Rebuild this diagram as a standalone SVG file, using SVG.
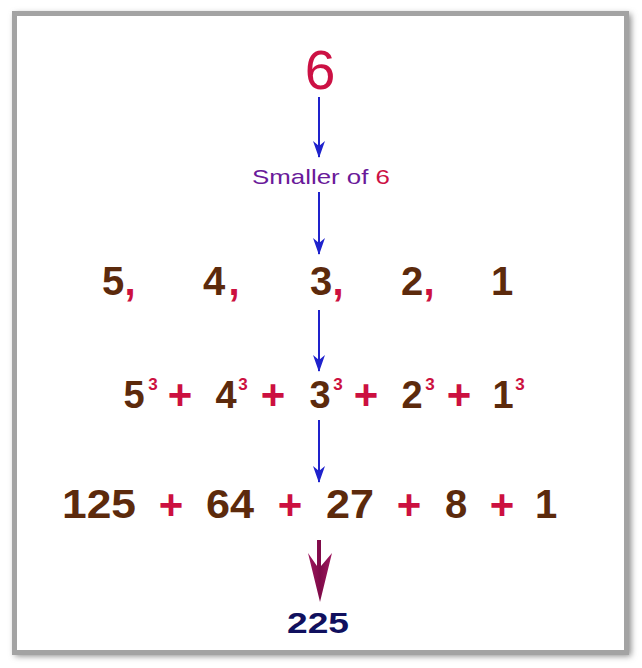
<svg xmlns="http://www.w3.org/2000/svg" width="642" height="668" viewBox="0 0 642 668">
<defs>
<filter id="sh" x="-5%" y="-5%" width="110%" height="110%"><feGaussianBlur stdDeviation="3"/></filter>
<marker id="ab" viewBox="0 0 17 12" refX="16" refY="6" markerWidth="17" markerHeight="12" markerUnits="userSpaceOnUse" orient="auto">
<path d="M0,0 L5,6 L0,12 L17,6 Z" fill="#1f22cc"/>
</marker>
<linearGradient id="mg" x1="0" y1="0" x2="1" y2="0"><stop offset="0" stop-color="#a0185f"/><stop offset="0.5" stop-color="#7e0a48"/><stop offset="1" stop-color="#a0185f"/></linearGradient>
</defs>
<style>
.n{font-family:"Liberation Sans",Arial,sans-serif;font-weight:bold;font-size:40px;fill:#5c2a0c;text-anchor:middle}
.m{font-size:38px}
.r{font-family:"Liberation Sans",Arial,sans-serif;font-weight:bold;fill:#cc1040;text-anchor:middle}
.p{font-size:42px}
.s{font-size:17px}
.c{font-size:40px}
.ln{stroke:#1f22cc;stroke-width:2;fill:none;marker-end:url(#ab)}
</style>
<rect x="15" y="14" width="616" height="642" fill="#888" filter="url(#sh)"/>
<rect x="14.5" y="13.5" width="612" height="639" fill="#fff" stroke="#a3a3a3" stroke-width="5"/>
<g id="connectors">
<line class="ln" x1="319" y1="97" x2="319" y2="157"/>
<line class="ln" x1="319" y1="192" x2="319" y2="254"/>
<line class="ln" x1="319" y1="310" x2="319" y2="371"/>
<line class="ln" x1="319" y1="420" x2="319" y2="482"/>
<path d="M317,540 L321,540 L321,566 L332,553 L320,602 L308,553 L317,566 Z" fill="url(#mg)"/>
</g>
<g id="top"><text x="320" y="89" style="font-family:'Liberation Sans',Arial,sans-serif;font-size:55px;fill:#cc1144" text-anchor="middle">6</text></g>
<g id="smaller"><text x="252" y="184" textLength="138" lengthAdjust="spacingAndGlyphs" style="font-family:'Liberation Sans',Arial,sans-serif;font-size:21px;fill:#6a1a9a">Smaller of <tspan fill="#cc1144">6</tspan></text></g>
<g id="row1">
<text class="n" x="113" y="295">5</text><text class="r c" x="130" y="295">,</text>
<text class="n" x="214" y="295">4</text><text class="r c" x="234" y="295">,</text>
<text class="n" x="321" y="295">3</text><text class="r c" x="338" y="295">,</text>
<text class="n" x="412" y="295">2</text><text class="r c" x="429" y="295">,</text>
<text class="n" x="502" y="295">1</text>
</g>
<g id="row2">
<text class="n m" x="134" y="408">5</text><text class="r s" x="153" y="390">3</text>
<text class="r p" x="180" y="409">+</text>
<text class="n m" x="226" y="408">4</text><text class="r s" x="243" y="390">3</text>
<text class="r p" x="273" y="409">+</text>
<text class="n m" x="320" y="408">3</text><text class="r s" x="338" y="390">3</text>
<text class="r p" x="366" y="409">+</text>
<text class="n m" x="412" y="408">2</text><text class="r s" x="430" y="390">3</text>
<text class="r p" x="459" y="409">+</text>
<text class="n m" x="503" y="408">1</text><text class="r s" x="520" y="390">3</text>
</g>
<g id="row3">
<text class="n" x="99" y="518" textLength="74" lengthAdjust="spacingAndGlyphs">125</text>
<text class="r p" x="171" y="519">+</text>
<text class="n" x="230" y="518" textLength="48" lengthAdjust="spacingAndGlyphs">64</text>
<text class="r p" x="290" y="519">+</text>
<text class="n" x="350" y="518" textLength="48" lengthAdjust="spacingAndGlyphs">27</text>
<text class="r p" x="409" y="519">+</text>
<text class="n" x="456" y="518">8</text>
<text class="r p" x="502" y="519">+</text>
<text class="n" x="546" y="518">1</text>
</g>
<g id="result"><text x="318" y="633" textLength="62" lengthAdjust="spacingAndGlyphs" style="font-family:'Liberation Sans',Arial,sans-serif;font-weight:bold;font-size:30px;fill:#10105e" text-anchor="middle">225</text></g>
</svg>
